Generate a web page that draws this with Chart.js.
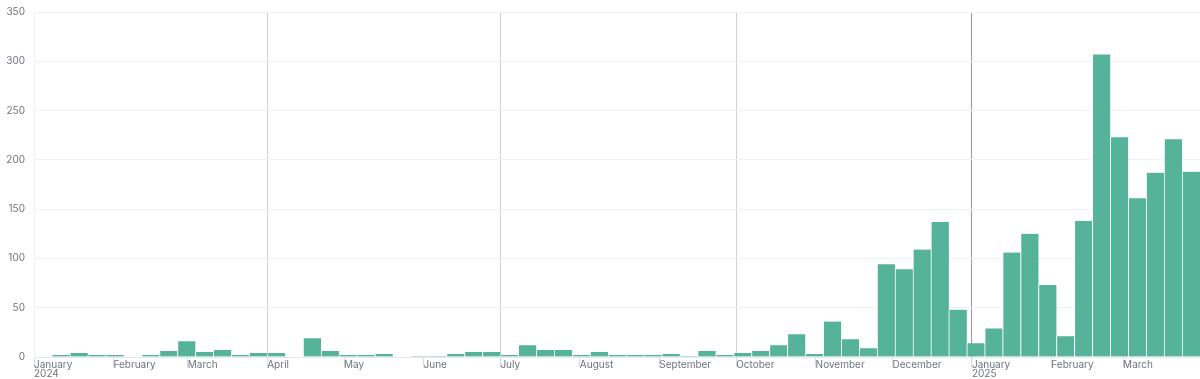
<!DOCTYPE html>
<html>
<head>
<meta charset="utf-8">
<script src="https://cdn.jsdelivr.net/npm/chart.js@4/dist/chart.umd.min.js"></script>
<style>
  html, body { margin: 0; padding: 0; background: #fff; }
  #wrap { width: 1200px; height: 379px; position: relative; }
</style>
</head>
<body>
<div id="wrap"><canvas id="chart"></canvas></div>
<script>
// weekly counts, each week starts on a Monday
const weekStarts = [
  "2024-01-01", "2024-01-08", "2024-01-15", "2024-01-22", "2024-01-29",
  "2024-02-05", "2024-02-12", "2024-02-19", "2024-02-26",
  "2024-03-04", "2024-03-11", "2024-03-18", "2024-03-25",
  "2024-04-01", "2024-04-08", "2024-04-15", "2024-04-22", "2024-04-29",
  "2024-05-06", "2024-05-13", "2024-05-20", "2024-05-27",
  "2024-06-03", "2024-06-10", "2024-06-17", "2024-06-24",
  "2024-07-01", "2024-07-08", "2024-07-15", "2024-07-22", "2024-07-29",
  "2024-08-05", "2024-08-12", "2024-08-19", "2024-08-26",
  "2024-09-02", "2024-09-09", "2024-09-16", "2024-09-23", "2024-09-30",
  "2024-10-07", "2024-10-14", "2024-10-21", "2024-10-28",
  "2024-11-04", "2024-11-11", "2024-11-18", "2024-11-25",
  "2024-12-02", "2024-12-09", "2024-12-16", "2024-12-23", "2024-12-30",
  "2025-01-06", "2025-01-13", "2025-01-20", "2025-01-27",
  "2025-02-03", "2025-02-10", "2025-02-17", "2025-02-24",
  "2025-03-03", "2025-03-10", "2025-03-17", "2025-03-24",
];
const counts = [
  0, 2, 4, 2, 2,
  0, 2, 6, 16,
  5, 7, 2, 4,
  4, 0, 19, 6, 2,
  2, 3, 0, 1,
  1, 3, 5, 5,
  2, 12, 7, 7, 2,
  5, 2, 2, 2,
  3, 1, 6, 2, 4,
  6, 12, 23, 3,
  36, 18, 9, 94,
  89, 109, 137, 48, 14,
  29, 106, 125, 73,
  21, 138, 307, 223,
  161, 187, 221, 188,
];

const monthTicks = [
  "2024-01-01", "2024-02-01", "2024-03-01", "2024-04-01", "2024-05-01", "2024-06-01",
  "2024-07-01", "2024-08-01", "2024-09-01", "2024-10-01", "2024-11-01", "2024-12-01",
  "2025-01-01", "2025-02-01", "2025-03-01",
];
const monthLabels = [
  ["January", "2024"], "February", "March", "April", "May", "June",
  "July", "August", "September", "October", "November", "December",
  ["January", "2025"], "February", "March",
];
const quarterLines = ["2024-04-01", "2024-07-01", "2024-10-01"];
const yearLines = ["2025-01-01"];

const DAY = 86400000;
const t = (s) => Date.parse(s + "T00:00:00Z");
const xMin = t("2024-01-01");
const xMax = t("2025-03-31");

const points = weekStarts.map((w, i) => ({ x: t(w) + 3.5 * DAY, y: counts[i] }));

const labelFor = {};
monthTicks.forEach((m, i) => { labelFor[t(m)] = monthLabels[i]; });
const quarterSet = new Set(quarterLines.map(t));
const yearSet = new Set(yearLines.map(t));

new Chart(document.getElementById("chart"), {
  type: "bar",
  data: {
    datasets: [
      {
        label: "Count",
        data: points,
        backgroundColor: "#54b399",
        borderColor: "#ffffff",
        borderWidth: { left: 1, right: 0, top: 0, bottom: 0 },
        borderSkipped: false,
        barPercentage: 1,
        categoryPercentage: 1,
      },
    ],
  },
  options: {
    responsive: true,
    maintainAspectRatio: false,
    animation: false,
    layout: { padding: { top: 12, right: 0, bottom: 0, left: 0 } },
    plugins: {
      legend: { display: false },
      tooltip: { enabled: false },
    },
    scales: {
      x: {
        type: "linear",
        offset: false,
        min: xMin,
        max: xMax,
        afterBuildTicks: (scale) => {
          scale.ticks = monthTicks.map((m) => ({ value: t(m) }));
        },
        afterFit: (scale) => { scale.height = 22; },
        grid: {
          offset: false,
          drawOnChartArea: true,
          color: (ctx) => {
            const v = ctx.tick && ctx.tick.value;
            if (yearSet.has(v)) return "#9a9a9a";
            if (quarterSet.has(v)) return "#d0d0d0";
            return "rgba(0,0,0,0)";
          },
          tickColor: "#d6d9de",
          tickLength: 10,
          lineWidth: 1,
        },
        border: { display: true, color: "#e6e8ec" },
        ticks: {
          autoSkip: false,
          maxRotation: 0,
          align: "start",
          padding: -6,
          color: "#6e7480",
          font: { family: "Inter", size: 10, lineHeight: 0.85 },
          callback: (v) => labelFor[v] || "",
        },
      },
      y: {
        min: 0,
        max: 350,
        afterFit: (scale) => {
          scale.width = 34;
          scale.paddingTop = 0;
          scale.paddingBottom = 0;
        },
        ticks: {
          stepSize: 50,
          padding: 9,
          color: "#6e7480",
          font: { family: "Inter", size: 10 },
        },
        grid: {
          color: "#f0f1f4",
          drawTicks: false,
        },
        border: { display: true, color: "#eef0f3" },
      },
    },
  },
});
</script>
</body>
</html>
